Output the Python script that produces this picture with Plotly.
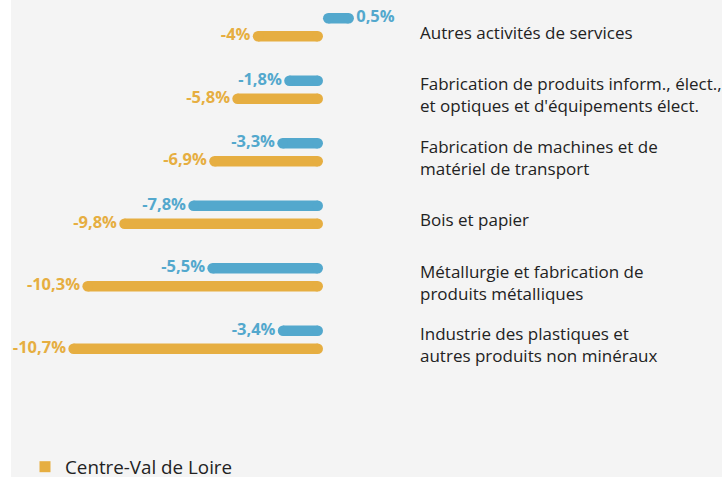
import plotly.graph_objects as go

# ---- data ----
categories = [
    "Autres activités de services",
    "Fabrication de produits inform., élect.,<br>et optiques et d'équipements élect.",
    "Fabrication de machines et de<br>matériel de transport",
    "Bois et papier",
    "Métallurgie et fabrication de<br>produits métalliques",
    "Industrie des plastiques et<br>autres produits non minéraux",
]
blue_labels = ["0,5%", "-1,8%", "-3,3%", "-7,8%", "-5,5%", "-3,4%"]
orange_labels = ["-4%", "-5,8%", "-6,9%", "-9,8%", "-10,3%", "-10,7%"]
# bar lengths as drawn in the picture
blue_lengths = [1.30, -1.63, -1.92, -5.66, -4.86, -1.90]
orange_lengths = [-2.95, -3.81, -4.78, -8.56, -10.11, -10.7]
legend_name = "Centre-Val de Loire"

# ---- styles ----
BLUE = "#53a8cd"
ORANGE = "#e6ae41"
BAR_W = 10.5
FONT = "Open Sans"
X_RANGE = [-13.109, 16.765]
PLOT_W = 722 - 11
CAP = (BAR_W / 2) * (X_RANGE[1] - X_RANGE[0]) / PLOT_W  # round cap radius in data units


def segments(vals, labels, offset):
    xs, ys, texts, pos = [], [], [], []
    for i, (v, lab) in enumerate(zip(vals, labels)):
        s = 1 if v > 0 else -1
        xs += [s * CAP, v - s * CAP, None]
        ys += [i + offset, i + offset, None]
        texts += ["", lab, ""]
        pos += ["middle left", "middle right" if v > 0 else "middle left", "middle left"]
    return xs, ys, texts, pos


fig = go.Figure()
for vals, labs, off, col in [
    (blue_lengths, blue_labels, -0.144, BLUE),
    (orange_lengths, orange_labels, 0.144, ORANGE),
]:
    xs, ys, texts, pos = segments(vals, labs, off)
    fig.add_trace(go.Scatter(
        x=xs, y=ys, mode="lines+markers+text",
        line=dict(color=col, width=BAR_W),
        marker=dict(color=col, size=BAR_W, line=dict(width=0)),
        text=texts, textposition=pos,
        textfont=dict(family=FONT, size=16.5, color=col, weight=700),
        showlegend=False, cliponaxis=False, hoverinfo="skip",
    ))

# legend entry
fig.add_trace(go.Scatter(
    x=[None], y=[None], mode="markers", name=legend_name,
    marker=dict(symbol="square", size=11, color=ORANGE),
))

for i, cat in enumerate(categories):
    fig.add_annotation(
        x=0.5724, xref="paper", y=i, yref="y", yshift=-5,
        text=cat, showarrow=False, xanchor="left", yanchor="middle", align="left",
        font=dict(family=FONT, size=17, color="#222222"),
    )

fig.update_layout(
    width=722, height=477,
    margin=dict(l=11, r=0, t=0, b=0, autoexpand=False),
    paper_bgcolor="white", plot_bgcolor="#f4f4f4",
    xaxis=dict(range=X_RANGE, visible=False, showgrid=False, zeroline=False),
    yaxis=dict(range=[7.196, -0.436], visible=False, showgrid=False, zeroline=False),
    legend=dict(x=0.0197, y=0.021, xanchor="left", yanchor="middle",
                font=dict(family=FONT, size=18.8, color="#222222"),
                bgcolor="rgba(0,0,0,0)"),
    font=dict(family=FONT),
)

fig.write_html("out.html", config={"displayModeBar": False},
               post_script="document.body.style.margin='0';document.body.style.overflow='hidden';")
